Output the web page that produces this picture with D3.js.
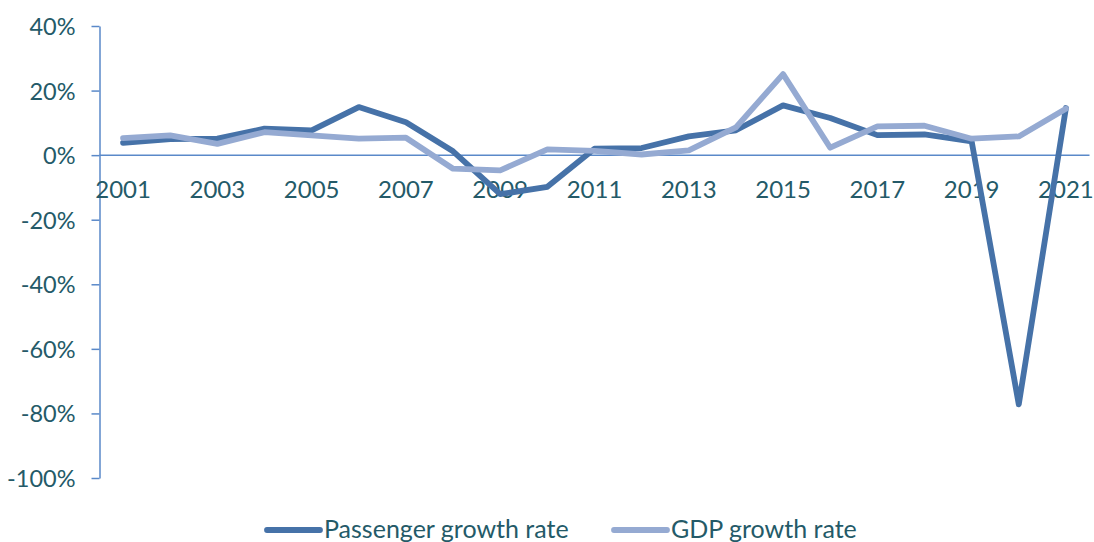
<!DOCTYPE html>
<html>
<head>
<meta charset="utf-8">
<script src="https://cdn.jsdelivr.net/npm/d3@7"></script>
<style>
  html, body { margin: 0; padding: 0; background: #fff; }
  svg { display: block; }
  text { font-family: Lato, "Open Sans", sans-serif; fill: #245a68; }
</style>
</head>
<body>
<svg id="chart" width="1094" height="542"></svg>
<script>
// Annual growth rates, in percent
const years = d3.range(2001, 2022);
const passengerGrowth = [3.8, 5.0, 5.1, 8.2, 7.7, 14.9, 10.2, 1.2, -12.1, -9.8, 2.0, 2.2, 5.8, 7.7, 15.4, 11.5, 6.2, 6.4, 4.3, -77.2, 14.6];
const gdpGrowth = [5.3, 6.1, 3.5, 7.1, 6.1, 5.1, 5.4, -4.2, -4.7, 1.8, 1.3, 0.2, 1.5, 8.6, 25.1, 2.3, 8.9, 9.1, 5.1, 5.8, 14.4];
const yTicks = [40, 20, 0, -20, -40, -60, -80, -100];
const xLabelYears = years.filter((yr, i) => i % 2 === 0);
const seriesNames = ["Passenger growth rate", "GDP growth rate"];

const colors = { passenger: "#4672a8", gdp: "#95aad2", axis: "#5a89c9" };

const svg = d3.select("#chart");
const plotLeft = 99.5, plotRight = 1089.5, plotTop = 26, plotBottom = 478;

const x = d3.scaleBand().domain(years).range([plotLeft, plotRight]);
const y = d3.scaleLinear().domain([-100, 40]).range([plotBottom, plotTop]);
const cx = d => x(d) + x.bandwidth() / 2;

// Vertical value axis with outside ticks
const yAxis = svg.append("g")
  .attr("transform", `translate(${plotLeft},0)`)
  .call(d3.axisLeft(y).tickValues(yTicks).tickSize(8).tickSizeOuter(0)
    .tickFormat(d => d + "%"));
yAxis.select(".domain").attr("stroke", colors.axis).attr("stroke-width", 1.5);
yAxis.selectAll(".tick line").attr("stroke", colors.axis).attr("stroke-width", 1.5);
yAxis.selectAll(".tick text")
  .attr("x", -24).attr("dy", "0.36em")
  .style("font-size", "23.5px").attr("fill", "#245a68");

// Category axis sitting on the zero line
svg.append("line")
  .attr("x1", plotLeft).attr("x2", plotRight)
  .attr("y1", y(0)).attr("y2", y(0))
  .attr("stroke", colors.axis).attr("stroke-width", 1.5);

svg.append("g").selectAll("text")
  .data(xLabelYears)
  .join("text")
  .attr("x", d => cx(d))
  .attr("y", y(0) + 43)
  .attr("text-anchor", "middle")
  .style("font-size", "24px")
  .text(d => d);

// Series lines
const line = d3.line()
  .x((d, i) => cx(years[i]))
  .y(d => y(d));

svg.append("path")
  .datum(passengerGrowth)
  .attr("d", line)
  .attr("fill", "none")
  .attr("stroke", colors.passenger)
  .attr("stroke-width", 5.8)
  .attr("stroke-linejoin", "round")
  .attr("stroke-linecap", "round");

svg.append("path")
  .datum(gdpGrowth)
  .attr("d", line)
  .attr("fill", "none")
  .attr("stroke", colors.gdp)
  .attr("stroke-width", 5.8)
  .attr("stroke-linejoin", "round")
  .attr("stroke-linecap", "round");

// Legend
const legendItems = [
  { name: seriesNames[0], color: colors.passenger, x: 267 },
  { name: seriesNames[1], color: colors.gdp, x: 614 }
];
const lg = svg.append("g").selectAll("g").data(legendItems).join("g")
  .attr("transform", d => `translate(${d.x},530)`);
lg.append("line")
  .attr("x1", 0).attr("x2", 53).attr("y1", 0).attr("y2", 0)
  .attr("stroke", d => d.color).attr("stroke-width", 5.8)
  .attr("stroke-linecap", "round");
lg.append("text")
  .attr("x", 57).attr("y", 8)
  .style("font-size", "25px")
  .text(d => d.name);
</script>
</body>
</html>
